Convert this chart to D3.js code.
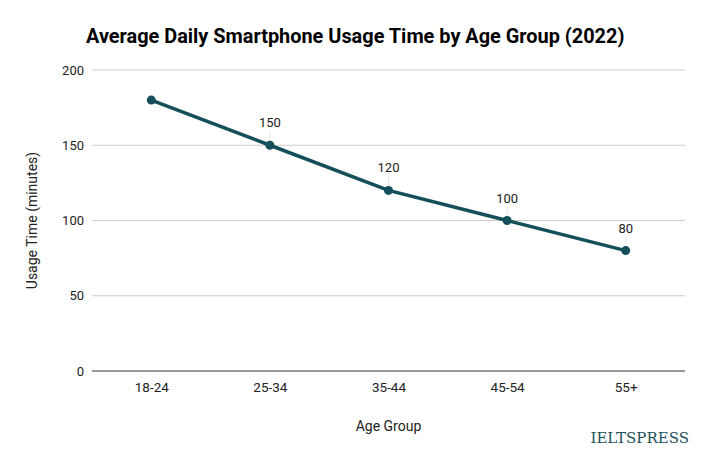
<!DOCTYPE html>
<html>
<head>
<meta charset="utf-8">
<script src="https://cdn.jsdelivr.net/npm/d3@7"></script>
<style>
  body { margin: 0; background: #fff; }
  text { font-family: Roboto, sans-serif; }
</style>
</head>
<body>
<div class="chart"></div>
<script>
var ageGroups = ["18-24", "25-34", "35-44", "45-54", "55+"];
var usageMinutes = [180, 150, 120, 100, 80];
var showLabel = [false, true, true, true, true];
var yTicks = [0, 50, 100, 150, 200];

var svgWidth = 708;
var svgHeight = 457;

var margin = { top: 70, right: 23, bottom: 86, left: 92 };
var width = svgWidth - margin.left - margin.right;
var height = svgHeight - margin.top - margin.bottom;

var svg = d3.select(".chart").append("svg")
  .attr("width", svgWidth)
  .attr("height", svgHeight);

var chartGroup = svg.append("g")
  .attr("transform", `translate(${margin.left}, ${margin.top})`);

var data = ageGroups.map((g, i) => ({ group: g, value: usageMinutes[i], label: showLabel[i] }));

var xScale = d3.scalePoint()
  .domain(ageGroups)
  .range([0, width])
  .padding(0.5);

var yScale = d3.scaleLinear()
  .domain([0, 200])
  .range([height, 0]);

// gridlines
chartGroup.append("g")
  .selectAll("line")
  .data(yTicks)
  .enter()
  .append("line")
  .attr("x1", 0)
  .attr("x2", width)
  .attr("y1", d => yScale(d))
  .attr("y2", d => yScale(d))
  .attr("stroke", d => d === 0 ? "#333" : "#cccccc")
  .attr("stroke-width", 1);

// y axis labels
var leftAxis = d3.axisLeft(yScale).tickValues(yTicks).tickSize(0).tickPadding(8);
chartGroup.append("g")
  .call(leftAxis)
  .call(g => g.select(".domain").remove())
  .selectAll("text")
  .attr("font-size", 13)
  .attr("fill", "#222")
  .style("font-family", "Roboto, sans-serif");

// x axis labels
var bottomAxis = d3.axisBottom(xScale).tickSize(0).tickPadding(11);
chartGroup.append("g")
  .attr("transform", `translate(0, ${height})`)
  .call(bottomAxis)
  .call(g => g.select(".domain").remove())
  .selectAll("text")
  .attr("font-size", 13.5)
  .attr("fill", "#222")
  .style("font-family", "Roboto, sans-serif");

// leader lines for data labels
chartGroup.selectAll(".leader")
  .data(data.filter(d => d.label))
  .enter()
  .append("line")
  .attr("x1", d => xScale(d.group))
  .attr("x2", d => xScale(d.group))
  .attr("y1", d => yScale(d.value) - 14)
  .attr("y2", d => yScale(d.value))
  .attr("stroke", "#e4e4e4")
  .attr("stroke-width", 1);

// line
var line = d3.line()
  .x(d => xScale(d.group))
  .y(d => yScale(d.value));

chartGroup.append("path")
  .datum(data)
  .attr("d", line)
  .attr("fill", "none")
  .attr("stroke", "#144f5a")
  .attr("stroke-width", 3.5);

chartGroup.selectAll(".dot")
  .data(data)
  .enter()
  .append("circle")
  .attr("cx", d => xScale(d.group))
  .attr("cy", d => yScale(d.value))
  .attr("r", 4.5)
  .attr("fill", "#144f5a");

// data labels
chartGroup.selectAll(".dlabel")
  .data(data.filter(d => d.label))
  .enter()
  .append("text")
  .attr("x", d => xScale(d.group))
  .attr("y", d => yScale(d.value) - 18)
  .attr("text-anchor", "middle")
  .attr("font-size", 13)
  .attr("fill", "#222")
  .text(d => d.value);

// title
svg.append("text")
  .attr("x", 86)
  .attr("y", 43)
  .attr("font-size", 19.9)
  .attr("font-weight", "bold")
  .attr("fill", "#000")
  .text("Average Daily Smartphone Usage Time by Age Group (2022)");

// axis titles
svg.append("text")
  .attr("x", margin.left + width / 2)
  .attr("y", 431)
  .attr("text-anchor", "middle")
  .attr("font-size", 14)
  .attr("fill", "#222")
  .text("Age Group");

svg.append("text")
  .attr("transform", `translate(37, ${margin.top + height / 2}) rotate(-90)`)
  .attr("text-anchor", "middle")
  .attr("font-size", 14)
  .attr("fill", "#222")
  .text("Usage Time (minutes)");

// watermark
svg.append("text")
  .attr("x", 689)
  .attr("y", 443)
  .attr("text-anchor", "end")
  .attr("font-size", 15)
  .attr("fill", "#1c4f5a")
  .style("font-family", "'DejaVu Serif', 'Liberation Serif', serif")
  .text("IELTSPRESS");
</script>
</body>
</html>
